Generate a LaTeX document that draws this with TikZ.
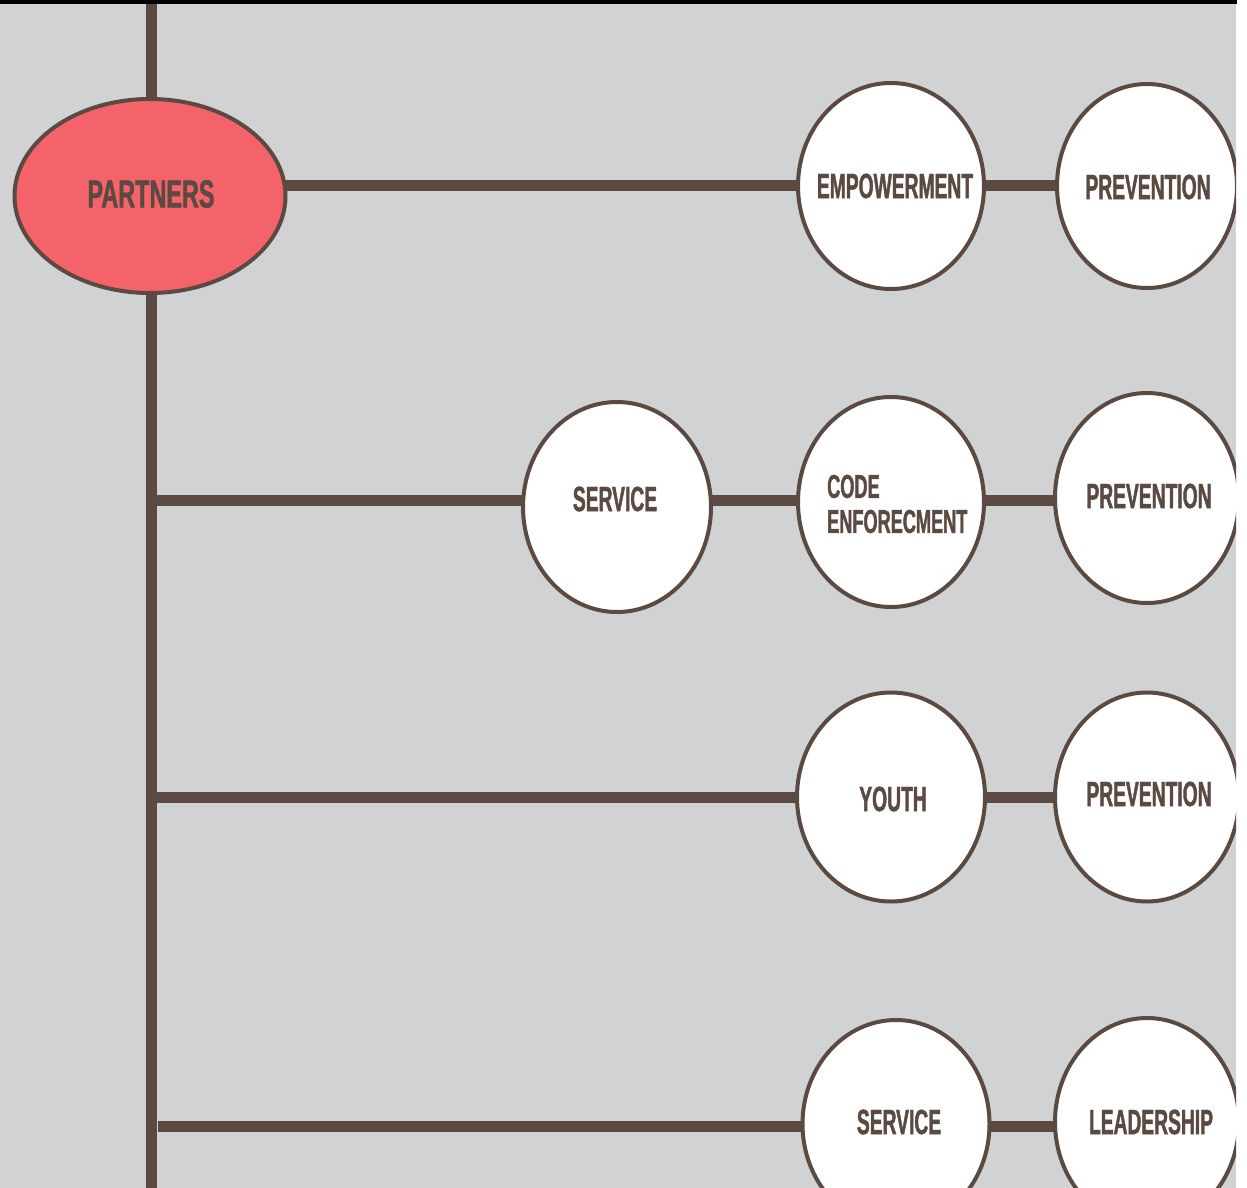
\documentclass[tikz,border=0pt]{standalone}
\usepackage{fontspec}
\usetikzlibrary{shapes.geometric}
\newfontfamily\lblfont{Liberation Sans Bold}[FakeStretch=0.55,FakeBold=1.2]
\newfontfamily\hubfont{Liberation Sans Bold}[FakeStretch=0.6,FakeBold=1.2]
\definecolor{bggray}{RGB}{208,210,212}
\definecolor{brownline}{RGB}{91,74,66}
\definecolor{hubred}{RGB}{244,99,106}
\pgfdeclarelayer{back}
\pgfdeclarelayer{bg}
\pgfsetlayers{back,bg,main}
\tikzset{
  x=1pt, y=-1pt,
  link/.style={draw=brownline, line width=11pt},
  bubble/.style={ellipse, draw=brownline, line width=4pt, fill=white,
    minimum width=186pt, minimum height=206pt, inner sep=0pt},
  hub/.style={ellipse, draw=brownline, line width=4pt, fill=hubred,
    minimum width=271pt, minimum height=194pt, inner sep=0pt},
  lbl/.style={text=brownline, inner sep=0pt, font=\lblfont\fontsize{35}{35}\selectfont},
  lbltwo/.style={lbl, align=left, font=\lblfont\fontsize{33}{35}\selectfont},
  hublbl/.style={text=brownline, inner sep=0pt, font=\hubfont\fontsize{39}{39}\selectfont},
}
\begin{document}
\begin{tikzpicture}
\useasboundingbox (0,0) rectangle (1247,1188);
\begin{pgfonlayer}{back}
\fill[white] (0,0) rectangle (1247,1188);
\fill[black] (0,0) rectangle (1237,4);
\fill[bggray] (0,4) rectangle (1236,1188);
\end{pgfonlayer}
\begin{scope}
\clip (0,4) rectangle (1236,1188);

% nodes
\node[hub] (partners) at (150,196) {};
\node[hublbl] (tpartners) at (151,194) {PARTNERS};

\node[bubble] (emp) at (891,186) {};
\node[lbl] (temp) at (895,186) {EMPOWERMENT};
\node[bubble, minimum width=180pt, minimum height=204pt] (prev1) at (1147,186) {};
\node[lbl] (tprev1) at (1148,187) {PREVENTION};

\node[bubble, minimum width=188pt, minimum height=210pt] (svc1) at (617,507) {};
\node[lbl] (tsvc1) at (615,499) {SERVICE};
\node[bubble, minimum width=186pt, minimum height=210pt] (code) at (891,502) {};
\node[lbltwo, anchor=west] (tcode) at (827,504) {CODE\\ENFORECMENT};
\node[bubble, minimum width=184pt, minimum height=210pt] (prev2) at (1147,498) {};
\node[lbl] (tprev2) at (1149,496) {PREVENTION};

\node[bubble, minimum width=188pt, minimum height=209pt] (youth) at (891,797) {};
\node[lbl] (tyouth) at (893,799) {YOUTH};
\node[bubble, minimum width=184pt, minimum height=209pt] (prev3) at (1147,797) {};
\node[lbl] (tprev3) at (1149,794) {PREVENTION};

\node[bubble, minimum width=187pt, minimum height=208pt] (svc2) at (896,1124) {};
\node[lbl] (tsvc2) at (899,1122) {SERVICE};
\node[bubble, minimum width=184pt, minimum height=208pt] (lead) at (1147,1122) {};
\node[lbl] (tlead) at (1151,1122) {LEADERSHIP};
\end{scope}

% connectors
\coordinate (spinetop) at (151,4);
\coordinate (spinebot) at (151,1188);
\coordinate (r1) at (151,185);
\coordinate (r2) at (151,500);
\coordinate (r3) at (151,797);
\coordinate (r4) at (158,1126);
\begin{pgfonlayer}{bg}
\draw[link] (spinetop) -- (spinebot);
\draw[link] (r1) -- (r1 -| prev1.center);
\draw[link] (r2) -- (r2 -| prev2.center);
\draw[link] (r3) -- (r3 -| prev3.center);
\draw[link] (r4) -- (r4 -| lead.center);
\end{pgfonlayer}
\end{tikzpicture}
\end{document}
